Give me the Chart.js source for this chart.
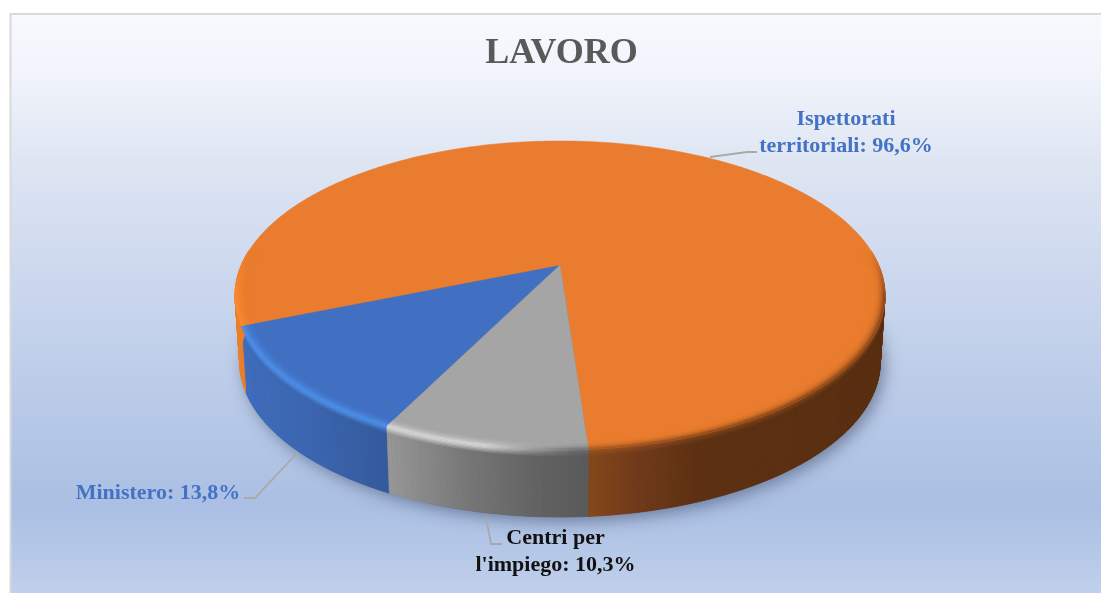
<!DOCTYPE html>
<html><head><meta charset="utf-8">
<style>html,body{margin:0;padding:0;background:#fff;overflow:hidden}canvas{display:block}</style>
<script src="https://cdn.jsdelivr.net/npm/chart.js@4/dist/chart.umd.min.js"></script>
</head><body><canvas id="c" width="1101" height="593"></canvas>
<script>
const chartTitle = "LAVORO";
const categories = ["Ministero", "Ispettorati territoriali", "Centri per l'impiego"];
const values = [13.8, 96.6, 10.3];
const sliceColors = ["#4170c3", "#e97c2e", "#a5a5a5"];
const labelColors = ["#4472c4", "#4472c4", "#111111"];
const FONT = "'Liberation Serif', serif";

// perspective view of the disc
const K = 0.197, CX = 560;
const TOP = {a: 318.6, b: 148.5, y: 265};
const BOT = {a: 314, b: 149, y: 331.5};
function proj(pl, ang, r) {
  const u = Math.cos(ang) * r, v = Math.sin(ang) * r, d = 1 - K * v;
  return [CX + pl.a * u / d, pl.y + pl.b * v / d];
}
const hex = h => [1, 3, 5].map(i => parseInt(h.substr(i, 2), 16));
const mix = (a, b, t) => a.map((c, i) => c + (b[i] - c) * t);
const css = c => `rgb(${c.map(Math.round).join(',')})`;
const clamp = (x, a = 0, b = 1) => Math.max(a, Math.min(b, x));
function ramp(stops, x) {
  if (x <= stops[0][0]) return hex(stops[0][1]);
  for (let i = 1; i < stops.length; i++) if (x <= stops[i][0]) {
    return mix(hex(stops[i - 1][1]), hex(stops[i][1]), (x - stops[i - 1][0]) / (stops[i][0] - stops[i - 1][0]));
  }
  return hex(stops[stops.length - 1][1]);
}
const sideStops = [
  [[243, "#3f6dbd"], [300, "#3c67b2"], [390, "#345a9c"]],
  [[240, "#ea7f2c"], [249, "#d8701f"], [260, "#a85a20"], [587, "#854819"], [640, "#70391a"], [700, "#5d3010"], [885, "#5a2e0f"]],
  [[388, "#979797"], [470, "#767676"], [530, "#646464"], [587, "#5a5a5a"]]
];
const highlights = ["#4f92ea", "#f98d32", "#dcdcdc"];

function rimColor(i, ang, x, p) {
  const base = hex(sliceColors[i]);
  const vis = clamp((Math.sin(ang) + 0.1) / 0.3);
  const h = Math.pow(p + 1, 2) * vis;
  const L = clamp((575 - x) / 90);
  let c = mix(base, hex(highlights[i]), L * h);
  const side = ramp(sideStops[i], x);
  return mix(c, side, (1 - L) * Math.pow(p + 1, 3) * vis * 0.75);
}
function quad(ctx, a, b, c, d, col) {
  ctx.fillStyle = col; ctx.strokeStyle = col; ctx.lineWidth = 0.6;
  ctx.beginPath(); ctx.moveTo(a[0], a[1]); ctx.lineTo(b[0], b[1]); ctx.lineTo(c[0], c[1]); ctx.lineTo(d[0], d[1]); ctx.closePath();
  ctx.fill(); ctx.stroke();
}
const lerpPt = (a, b, t) => [a[0] + (b[0] - a[0]) * t, a[1] + (b[1] - a[1]) * t];

const pie3d = {
  id: 'pie3d',
  beforeDraw(chart) {
    const ctx = chart.ctx, W = chart.width, H = chart.height;
    ctx.save();
    ctx.fillStyle = '#ffffff'; ctx.fillRect(0, 0, W, H);
    const g = ctx.createLinearGradient(0, 14, 0, H);
    g.addColorStop(0, '#f7f9fd'); g.addColorStop(0.1, '#f1f4fb'); g.addColorStop(0.25, '#dfe6f3');
    g.addColorStop(0.45, '#ccd8ee'); g.addColorStop(0.85, '#aabfe3'); g.addColorStop(1, '#c0d0ec');
    ctx.fillStyle = g; ctx.fillRect(11, 15, W - 11, H - 15);
    ctx.strokeStyle = '#d9d9d9'; ctx.lineWidth = 2;
    ctx.beginPath(); ctx.moveTo(10.5, H); ctx.lineTo(10.5, 14); ctx.lineTo(W, 14); ctx.stroke();
    ctx.restore();
  },
  beforeDatasetsDraw(chart) {
    const ctx = chart.ctx, arcs = chart.getDatasetMeta(0).data;
    ctx.save();
    // soft cast shadow under the disc
    ctx.save();
    ctx.shadowColor = 'rgba(55,65,95,0.55)'; ctx.shadowBlur = 16; ctx.shadowOffsetX = 4; ctx.shadowOffsetY = 4;
    ctx.fillStyle = '#4a5a80';
    ctx.beginPath();
    for (let t = 0; t <= 360; t += 2) { const p = proj(BOT, t * Math.PI / 180, 1); t ? ctx.lineTo(p[0], p[1]) : ctx.moveTo(p[0], p[1]); }
    ctx.closePath(); ctx.fill();
    ctx.restore();

    const STEP = Math.PI / 360;
    const sideP = [0, 0.02, 0.04, 0.06, 0.08, 0.1, 0.14, 1];
    arcs.forEach((arc, i) => {
      for (let a = arc.startAngle; a < arc.endAngle; a += STEP) {
        const b = Math.min(a + STEP, arc.endAngle);
        if (Math.sin(a) < -0.1 && Math.sin(b) < -0.1) continue;
        const tA = proj(TOP, a, 1), tB = proj(TOP, b, 1), bA = proj(BOT, a, 1), bB = proj(BOT, b, 1);
        const x = (tA[0] + tB[0]) / 2;
        const edge = rimColor(i, a, x, 0), side = ramp(sideStops[i], x);
        for (let s = 0; s < sideP.length - 1; s++) {
          const col = mix(edge, side, clamp(sideP[s] / 0.1));
          quad(ctx, lerpPt(tA, bA, sideP[s]), lerpPt(tB, bB, sideP[s]), lerpPt(tB, bB, sideP[s + 1]), lerpPt(tA, bA, sideP[s + 1]), css(col));
        }
      }
    });
    // top faces
    arcs.forEach((arc, i) => {
      ctx.fillStyle = arc.options.backgroundColor;
      ctx.strokeStyle = arc.options.backgroundColor; ctx.lineWidth = 0.5;
      ctx.beginPath();
      const c = proj(TOP, 0, 0); ctx.moveTo(c[0], c[1]);
      for (let a = arc.startAngle; a < arc.endAngle; a += STEP) { const p = proj(TOP, a, 1); ctx.lineTo(p[0], p[1]); }
      const e = proj(TOP, arc.endAngle, 1); ctx.lineTo(e[0], e[1]);
      ctx.closePath(); ctx.fill(); ctx.stroke();
    });
    // bevelled rim on top faces
    const R0 = 0.96, N = 8;
    arcs.forEach((arc, i) => {
      for (let a = arc.startAngle; a < arc.endAngle; a += STEP) {
        const b = Math.min(a + STEP, arc.endAngle);
        if (Math.sin(a) < -0.1) continue;
        for (let s = 0; s < N; s++) {
          const r1 = R0 + (1 - R0) * s / N, r2 = R0 + (1 - R0) * (s + 1) / N;
          const x = proj(TOP, a, 1)[0];
          const p = (s + 0.5) / N - 1;
          quad(ctx, proj(TOP, a, r1), proj(TOP, b, r1), proj(TOP, b, r2), proj(TOP, a, r2), css(rimColor(i, a, x, p)));
        }
      }
    });
    ctx.restore();
    return false;
  },
  afterDraw(chart) {
    const ctx = chart.ctx;
    ctx.save();
    const leaders = [
      [[298, 452], [255, 498], [244, 498]],
      [[710, 157], [747, 152], [757, 152]],
      [[486, 517], [491, 544], [502, 544]]
    ];
    ctx.strokeStyle = '#a9a9a9'; ctx.lineWidth = 1.8;
    leaders.forEach(l => { ctx.beginPath(); l.forEach((p, j) => j ? ctx.lineTo(p[0], p[1]) : ctx.moveTo(p[0], p[1])); ctx.stroke(); });
    const pct = v => v.toFixed(1).replace('.', ',') + '%';
    const lines = [
      [categories[0] + ': ' + pct(values[0])],
      ['Ispettorati', 'territoriali: ' + pct(values[1])],
      ['Centri per', "l'impiego: " + pct(values[2])]
    ];
    const anchors = [[158, 493], [846, 119], [555.5, 538]];
    ctx.font = 'bold 22px ' + FONT; ctx.textAlign = 'center'; ctx.textBaseline = 'middle';
    lines.forEach((ls, i) => {
      ctx.fillStyle = labelColors[i];
      ls.forEach((t, j) => ctx.fillText(t, anchors[i][0], anchors[i][1] + j * 27.5));
    });
    ctx.restore();
  }
};

new Chart(document.getElementById('c'), {
  type: 'pie',
  data: { labels: categories, datasets: [{ data: values, backgroundColor: sliceColors, borderWidth: 0 }] },
  options: {
    responsive: false, animation: false, rotation: 206.6,
    layout: { padding: { left: 22 } },
    plugins: {
      legend: { display: false }, tooltip: { enabled: false },
      title: { display: true, text: chartTitle, color: '#595959',
        font: { family: FONT, size: 36, weight: 'bold' }, padding: { top: 32, bottom: 10 } }
    }
  },
  plugins: [pie3d]
});
</script></body></html>
